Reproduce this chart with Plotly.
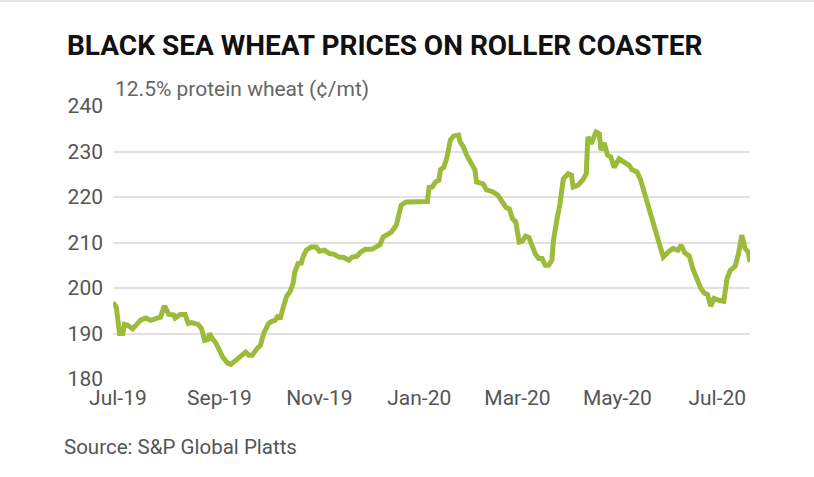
import plotly.graph_objects as go

dates = [
    "2019-06-28", "2019-06-30", "2019-07-02", "2019-07-04", "2019-07-05", "2019-07-07",
    "2019-07-10", "2019-07-13", "2019-07-15", "2019-07-18", "2019-07-21", "2019-07-25",
    "2019-07-27", "2019-07-29", "2019-07-30", "2019-08-01", "2019-08-04", "2019-08-05",
    "2019-08-08", "2019-08-11", "2019-08-13", "2019-08-15", "2019-08-19", "2019-08-21",
    "2019-08-23", "2019-08-25", "2019-08-26", "2019-08-28", "2019-08-30", "2019-09-03",
    "2019-09-06", "2019-09-08", "2019-09-11", "2019-09-14", "2019-09-17", "2019-09-19",
    "2019-09-21", "2019-09-24", "2019-09-26", "2019-09-28", "2019-10-01", "2019-10-03",
    "2019-10-05", "2019-10-07", "2019-10-08", "2019-10-10", "2019-10-12", "2019-10-14",
    "2019-10-16", "2019-10-17", "2019-10-19", "2019-10-21", "2019-10-22", "2019-10-24",
    "2019-10-27", "2019-10-30", "2019-11-01", "2019-11-04", "2019-11-07", "2019-11-10",
    "2019-11-13", "2019-11-16", "2019-11-19", "2019-11-21", "2019-11-24", "2019-11-26",
    "2019-11-29", "2019-12-03", "2019-12-06", "2019-12-08", "2019-12-10", "2019-12-13",
    "2019-12-15", "2019-12-18", "2019-12-20", "2019-12-21", "2019-12-24", "2020-01-06",
    "2020-01-07", "2020-01-09", "2020-01-11", "2020-01-13", "2020-01-14", "2020-01-16",
    "2020-01-18", "2020-01-20", "2020-01-22", "2020-01-25", "2020-01-26", "2020-01-28",
    "2020-01-30", "2020-02-02", "2020-02-04", "2020-02-05", "2020-02-09", "2020-02-11",
    "2020-02-15", "2020-02-18", "2020-02-21", "2020-02-23", "2020-02-25", "2020-02-27",
    "2020-02-29", "2020-03-02", "2020-03-04", "2020-03-06", "2020-03-08", "2020-03-10",
    "2020-03-12", "2020-03-14", "2020-03-16", "2020-03-18", "2020-03-20", "2020-03-22",
    "2020-03-23", "2020-03-25", "2020-03-27", "2020-03-29", "2020-04-01", "2020-04-03",
    "2020-04-04", "2020-04-07", "2020-04-10", "2020-04-12", "2020-04-13", "2020-04-15",
    "2020-04-18", "2020-04-20", "2020-04-21", "2020-04-23", "2020-04-25", "2020-04-27",
    "2020-04-29", "2020-05-02", "2020-05-04", "2020-05-08", "2020-05-10", "2020-05-13",
    "2020-05-15", "2020-05-17", "2020-05-20", "2020-05-23", "2020-05-25", "2020-05-28",
    "2020-05-29", "2020-06-01", "2020-06-04", "2020-06-07", "2020-06-09", "2020-06-11",
    "2020-06-14", "2020-06-16", "2020-06-19", "2020-06-21", "2020-06-23", "2020-06-25",
    "2020-06-27", "2020-06-29", "2020-07-02", "2020-07-05", "2020-07-07", "2020-07-09",
    "2020-07-12", "2020-07-14", "2020-07-16", "2020-07-18", "2020-07-20", "2020-07-21",
]

prices = [
    196.8, 195.8, 190.0, 190.0, 192.0, 191.8,
    191.0, 192.4, 193.0, 193.4, 192.9, 193.4,
    193.6, 195.7, 195.7, 194.2, 194.1, 193.4,
    194.2, 194.2, 192.2, 192.4, 192.0, 191.1,
    188.5, 188.7, 190.0, 188.7, 187.8, 184.8,
    183.5, 183.2, 184.1, 184.8, 185.9, 185.2,
    185.2, 186.7, 187.4, 190.0, 192.2, 192.7,
    192.9, 194.0, 193.1, 195.8, 198.2, 199.1,
    201.0, 203.5, 205.4, 205.5, 206.8, 208.3,
    209.0, 209.0, 208.1, 208.3, 207.6, 207.4,
    206.8, 206.7, 206.1, 206.8, 207.0, 207.8,
    208.5, 208.5, 209.0, 209.5, 211.2, 212.0,
    212.3, 213.8, 216.7, 218.2, 218.9, 219.0,
    222.1, 222.2, 223.3, 223.7, 226.0, 226.5,
    228.8, 232.5, 233.4, 233.6, 232.1, 231.0,
    229.2, 227.3, 226.0, 223.3, 222.9, 221.6,
    221.1, 220.4, 218.9, 217.7, 217.4, 215.2,
    214.5, 210.1, 210.3, 211.4, 211.1, 209.4,
    207.4, 206.5, 206.5, 205.0, 205.0, 206.1,
    210.5, 214.9, 218.6, 224.0, 225.1, 224.8,
    222.2, 222.6, 223.8, 225.1, 233.2, 231.7,
    234.3, 233.9, 230.3, 231.9, 229.2, 228.8,
    226.5, 228.4, 227.9, 227.0, 226.0, 225.5,
    224.0, 221.5, 218.2, 214.2, 211.2, 207.6,
    206.8, 207.9, 208.7, 208.3, 209.4, 207.8,
    207.0, 204.3, 201.7, 199.9, 198.9, 198.6,
    196.0, 197.7, 197.3, 197.1, 202.1, 203.9,
    204.8, 207.6, 211.6, 208.7, 207.9, 205.7,
]

tick_dates = ["2019-07-01", "2019-09-01", "2019-11-01", "2020-01-01",
              "2020-03-01", "2020-05-01", "2020-07-01"]
tick_labels = ["Jul-19", "Sep-19", "Nov-19", "Jan-20", "Mar-20", "May-20", "Jul-20"]
y_ticks = [180, 190, 200, 210, 220, 230, 240]

title_text = "BLACK SEA WHEAT PRICES ON ROLLER COASTER"
unit_text = "12.5% protein wheat (¢/mt)"
source_text = "Source: S&P Global Platts"

GREEN = "#9cbb3b"
GRID = "#e1e1e1"
TICK = "#555555"

fig = go.Figure()
fig.add_trace(go.Scatter(
    x=dates, y=prices, mode="lines",
    line=dict(color=GREEN, width=5),
    hoverinfo="x+y", showlegend=False,
))

fig.update_layout(
    width=814, height=477,
    margin=dict(l=113, r=64, t=106, b=98),
    paper_bgcolor="white", plot_bgcolor="white",
    font=dict(family="Roboto", color=TICK),
    xaxis=dict(
        type="date",
        range=[dates[0], dates[-1]],
        tickvals=tick_dates, ticktext=tick_labels,
        showgrid=False, zeroline=False, showline=False, ticks="",
        tickfont=dict(family="Roboto", size=21, color=TICK),
        ticklabelstandoff=4,
    ),
    yaxis=dict(
        range=[180, 240],
        tickvals=y_ticks,
        showgrid=True, gridcolor=GRID, gridwidth=1.6,
        zeroline=False, showline=False, ticks="",
        tickfont=dict(family="Roboto", size=21, color=TICK),
        ticklabelstandoff=9,
    ),
    annotations=[
        dict(text="<b>" + title_text + "</b>", xref="paper", yref="paper",
             x=-0.0754, y=1.2198, xanchor="left", yanchor="middle", showarrow=False,
             font=dict(family="Roboto", size=28, color="#111111")),
        dict(text=unit_text, xref="paper", yref="paper",
             x=0.0, y=1.0623, xanchor="left", yanchor="middle", showarrow=False,
             font=dict(family="Roboto", size=21, color="#666666")),
        dict(text=source_text, xref="paper", yref="paper",
             x=-0.0801, y=-0.249, xanchor="left", yanchor="middle", showarrow=False,
             font=dict(family="Roboto", size=20.5, color=TICK)),
    ],
    shapes=[
        dict(type="line", xref="paper", yref="paper", x0=-0.18, x1=1.11,
             y0=1.3846, y1=1.3846, line=dict(color="#e6e6e6", width=2)),
    ],
)

fig.write_html("out.html", config={"displayModeBar": False},
               post_script="document.body.style.margin='0';")
